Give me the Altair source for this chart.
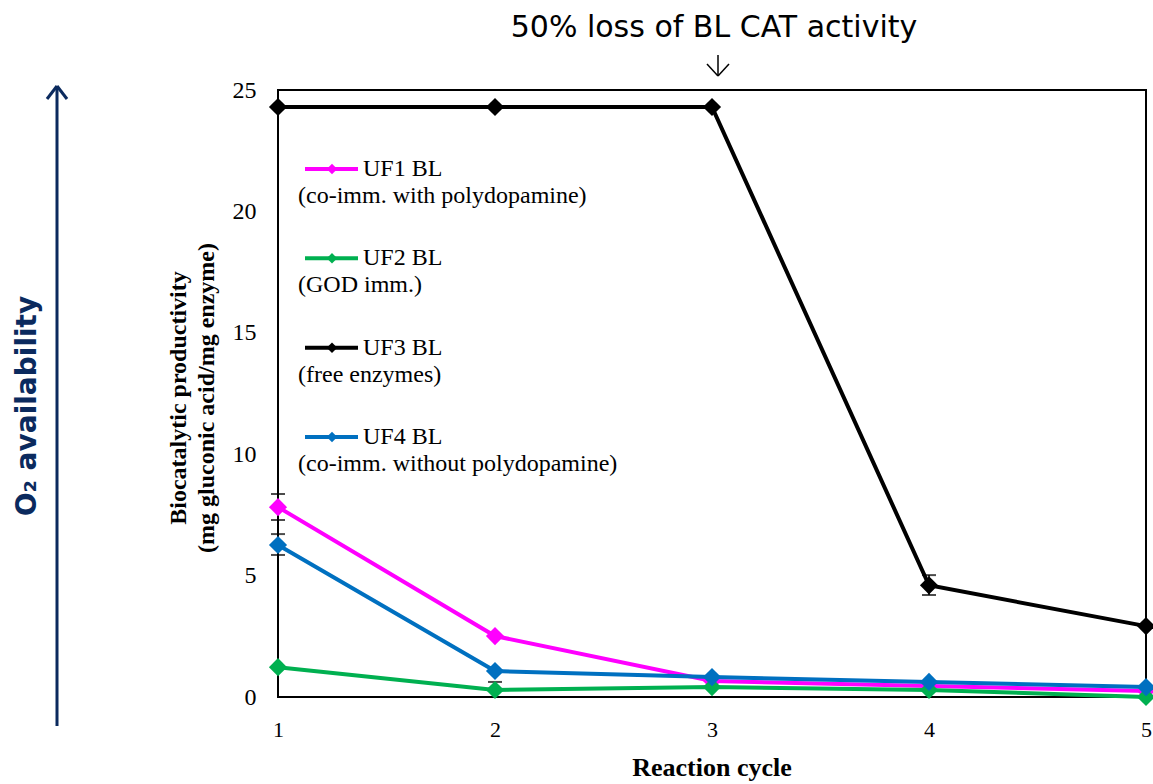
import altair as alt
import pandas as pd

cycles = [1, 2, 3, 4, 5]
series_names = ["UF1 BL", "UF2 BL", "UF3 BL", "UF4 BL"]
series_notes = ["(co-imm. with polydopamine)", "(GOD imm.)", "(free enzymes)", "(co-imm. without polydopamine)"]
series_colors = ["#FF00FF", "#00B050", "#000000", "#0070C0"]
uf1 = [7.82, 2.51, 0.66, 0.45, 0.25]
uf2 = [1.23, 0.29, 0.41, 0.29, 0.0]
uf3 = [24.3, 24.3, 24.3, 4.6, 2.92]
uf4 = [6.26, 1.07, 0.82, 0.62, 0.41]

err_series = ["UF1 BL", "UF4 BL", "UF3 BL", "UF2 BL"]
err_cycle = [1, 1, 4, 2]
err_lo = [7.29, 5.85, 4.2, 0.0]
err_hi = [8.36, 6.71, 5.02, 0.62]

W, H = 868, 607
SERIF = "Liberation Serif"
SANS = "DejaVu Sans"

rows = []
for name, vals in zip(series_names, [uf1, uf2, uf3, uf4]):
    for c, v in zip(cycles, vals):
        rows.append({"series": name, "cycle": c, "value": v})
df = pd.DataFrame(rows)
err = pd.DataFrame({"series": err_series, "cycle": err_cycle, "lo": err_lo, "hi": err_hi})
leg = pd.DataFrame({"series": series_names, "note": series_notes, "idx": list(range(4))})

color = alt.Color("series:N", scale=alt.Scale(domain=series_names, range=series_colors), legend=None)
xs = alt.Scale(domain=[1, 5], nice=False, zero=False)
ys = alt.Scale(domain=[0, 25], nice=False, zero=True)

xax = alt.Axis(values=cycles, format="d", grid=False, domain=False, ticks=False, labelFlush=False,
               labelFont=SERIF, labelFontSize=22, labelColor="black", labelPadding=22, title=None)
yax = alt.Axis(values=[0, 5, 10, 15, 20, 25], grid=False, domain=False, ticks=False, labelFlush=False,
               labelFont=SERIF, labelFontSize=24, labelColor="black", labelPadding=22, title=None)

base = alt.Chart(df)
x_enc = alt.X("cycle:Q", scale=xs, axis=xax)
y_enc = alt.Y("value:Q", scale=ys, axis=yax)
x_plain = alt.X("cycle:Q", scale=xs, axis=xax)

errbase = alt.Chart(err)
err_rule = errbase.mark_rule(color="black", strokeWidth=1.5).encode(
    x=x_plain, y=alt.Y("lo:Q", scale=ys, axis=None), y2="hi:Q")
err_cap_lo = errbase.mark_tick(color="black", orient="horizontal", size=14, thickness=2).encode(
    x=x_plain, y=alt.Y("lo:Q", scale=ys, axis=None))
err_cap_hi = errbase.mark_tick(color="black", orient="horizontal", size=14, thickness=2).encode(
    x=x_plain, y=alt.Y("hi:Q", scale=ys, axis=None))

lines = base.mark_line(strokeWidth=4, clip=False).encode(x=x_enc, y=y_enc, color=color,
                                                          order=alt.Order("cycle:Q"))
points = base.mark_point(shape="diamond", size=330, filled=True, opacity=1, clip=False).encode(
    x=x_plain, y=alt.Y("value:Q", scale=ys, axis=None), color=color)

# legend drawn inside the plot
ly = alt.Y("idx:Q", scale=alt.Scale(domain=[0, 3], range=[79, 347]), axis=None)
lbase = alt.Chart(leg)
leg_line = lbase.mark_rule(strokeWidth=4).encode(x=alt.value(27), x2=alt.value(80), y=ly, color=color)
leg_pt = lbase.mark_point(shape="diamond", size=110, filled=True, opacity=1).encode(
    x=alt.value(54), y=ly, color=color)
leg_name = lbase.mark_text(align="left", baseline="middle", font=SERIF, fontSize=24, color="black").encode(
    x=alt.value(85), y=ly, text="series:N")
leg_note = lbase.mark_text(align="left", baseline="middle", font=SERIF, fontSize=24, color="black", dy=27).encode(
    x=alt.value(20), y=ly, text="note:N")

# annotations
one = pd.DataFrame({"a": [0]})
ann = alt.Chart(one)
top_text = ann.mark_text(text="50% loss of BL CAT activity", font=SANS, fontSize=30, color="black",
                         align="center", baseline="alphabetic").encode(x=alt.value(436), y=alt.value(-53))
arr_shaft = ann.mark_rule(color="black", strokeWidth=1.5).encode(
    x=alt.value(440), x2=alt.value(440), y=alt.value(-35), y2=alt.value(-14))
arr_l = ann.mark_rule(color="black", strokeWidth=1.5).encode(
    x=alt.value(429), x2=alt.value(440), y=alt.value(-26), y2=alt.value(-14))
arr_r = ann.mark_rule(color="black", strokeWidth=1.5).encode(
    x=alt.value(451), x2=alt.value(440), y=alt.value(-26), y2=alt.value(-14))

navy = "#0B2A5E"
o2_shaft = ann.mark_rule(color=navy, strokeWidth=3).encode(
    x=alt.value(-221), x2=alt.value(-221), y=alt.value(-4), y2=alt.value(636))
o2_l = ann.mark_rule(color=navy, strokeWidth=3).encode(
    x=alt.value(-231), x2=alt.value(-221), y=alt.value(9), y2=alt.value(-4))
o2_r = ann.mark_rule(color=navy, strokeWidth=3).encode(
    x=alt.value(-211), x2=alt.value(-221), y=alt.value(9), y2=alt.value(-4))
o2_text = ann.mark_text(text="O₂ availability", font=SANS, fontSize=28, fontWeight="bold", color=navy,
                        angle=270, align="center", baseline="middle").encode(
    x=alt.value(-250), y=alt.value(316))

ytitle1 = ann.mark_text(text="Biocatalytic productivity", font=SERIF, fontSize=24, fontWeight="bold",
                        color="black", angle=270, align="center", baseline="middle").encode(
    x=alt.value(-99), y=alt.value(308))
ytitle2 = ann.mark_text(text="(mg gluconic acid/mg enzyme)", font=SERIF, fontSize=24, fontWeight="bold",
                        color="black", angle=270, align="center", baseline="middle").encode(
    x=alt.value(-71), y=alt.value(308))
xtitle = ann.mark_text(text="Reaction cycle", font=SERIF, fontSize=26, fontWeight="bold",
                       color="black", align="center", baseline="middle").encode(
    x=alt.value(434), y=alt.value(678))

chart = alt.layer(
    lines, err_rule, err_cap_lo, err_cap_hi, points,
    leg_line, leg_pt, leg_name, leg_note,
    top_text, arr_shaft, arr_l, arr_r,
    o2_shaft, o2_l, o2_r, o2_text, ytitle1, ytitle2, xtitle,
).resolve_scale(y="independent").properties(
    width=W, height=H,
    autosize=alt.AutoSizeParams(type="none"),
    padding={"left": 278, "top": 90, "right": 7, "bottom": 87},
    background="white",
).configure_view(stroke="black", strokeWidth=2)

chart.save("out.html", embed_options={"renderer": "svg", "actions": False})
